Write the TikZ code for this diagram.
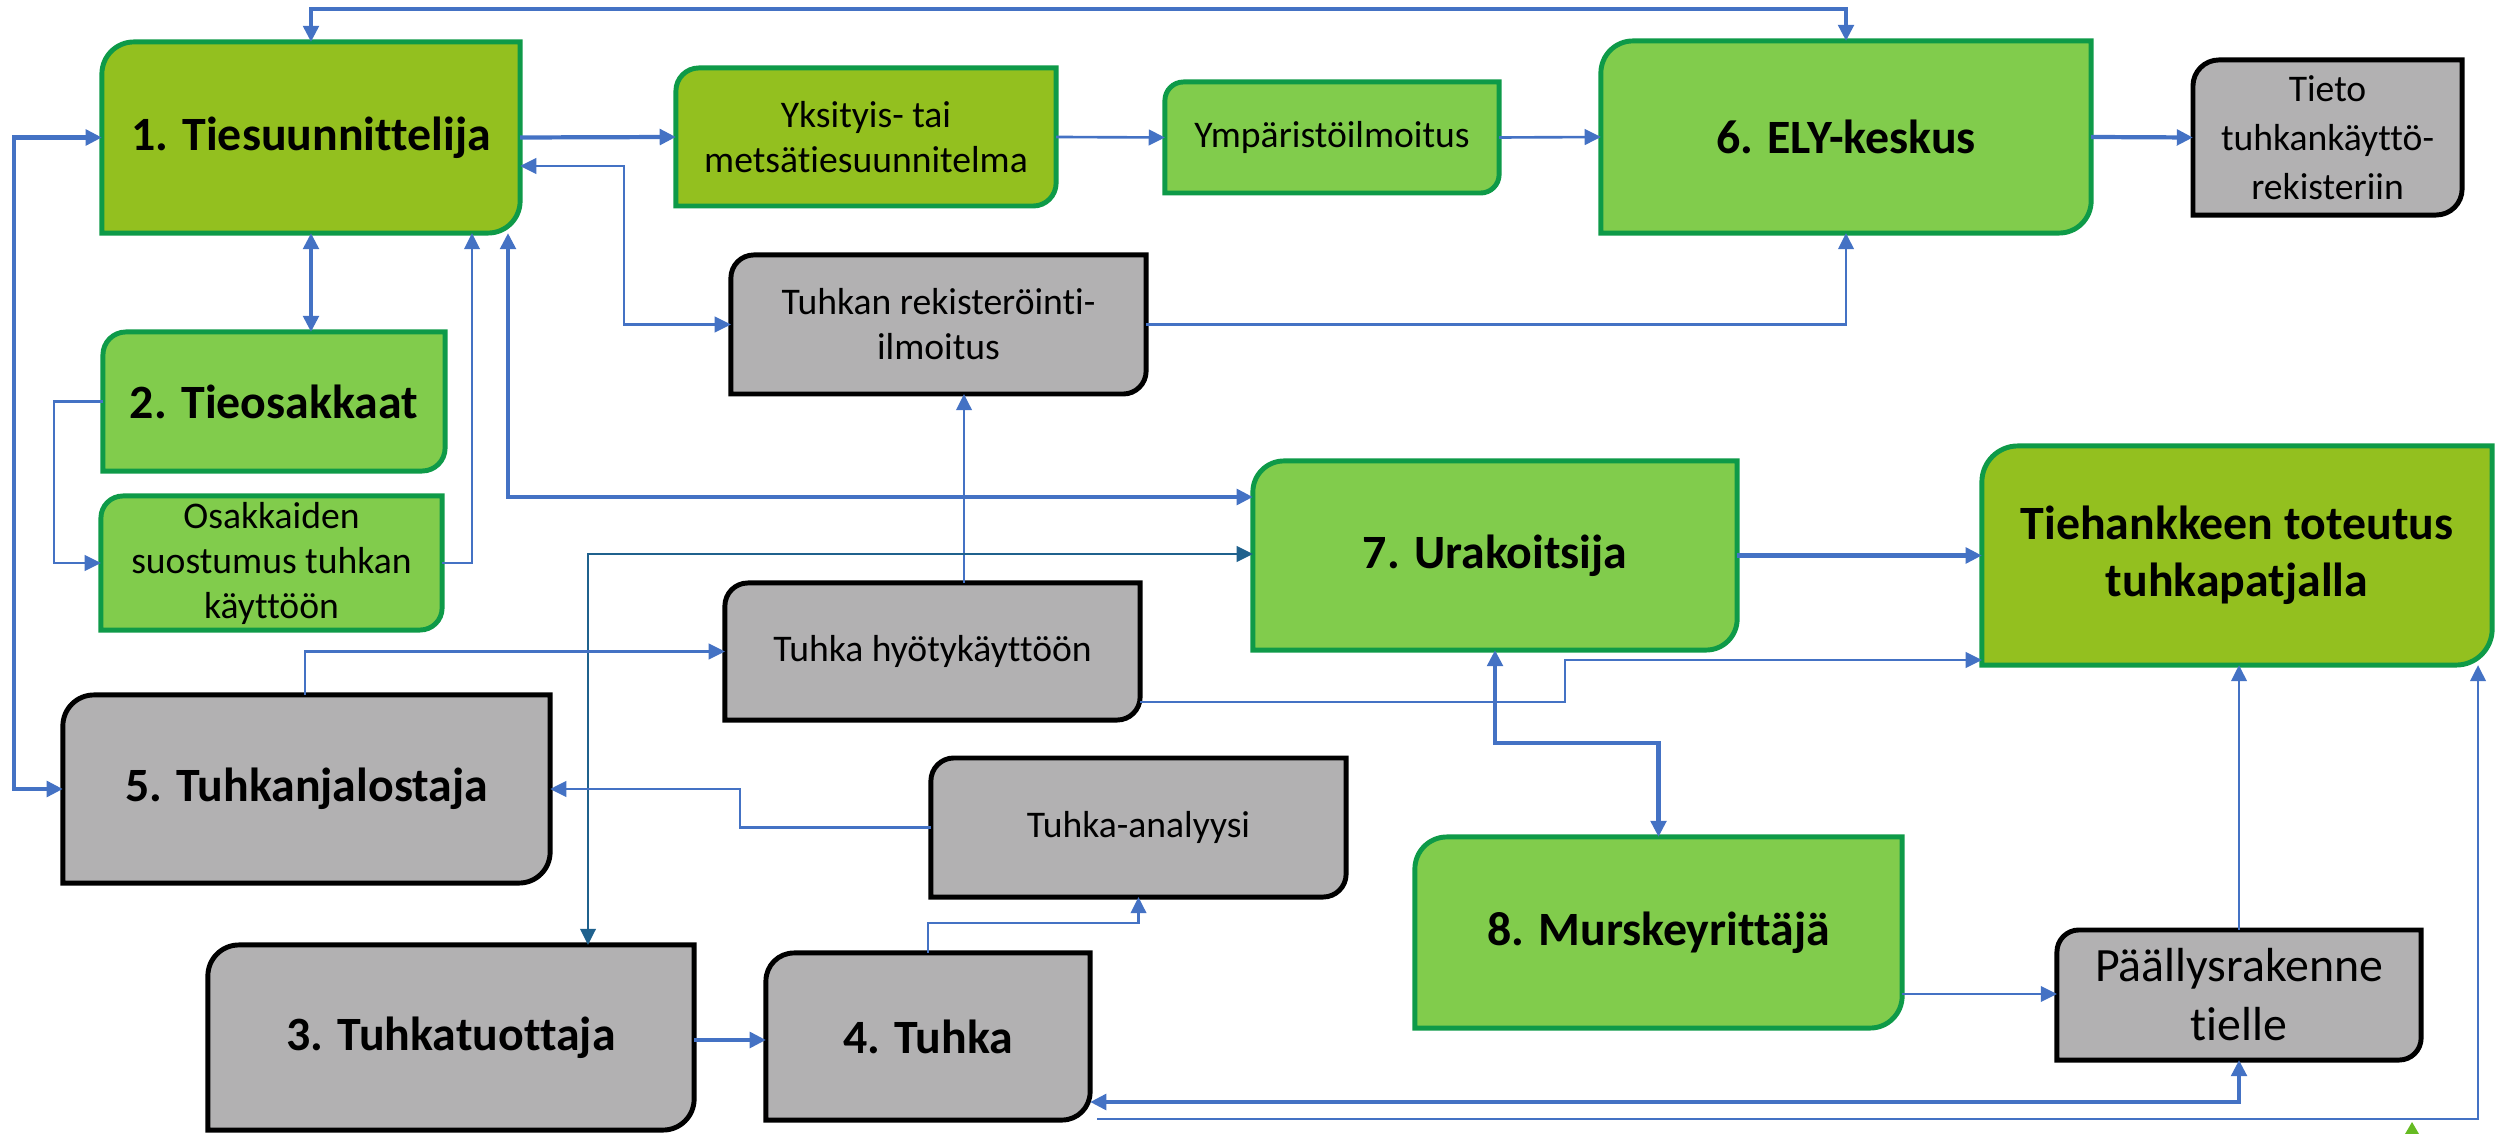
\documentclass[tikz,border=0pt]{standalone}
\usepackage{fontspec}
\setmainfont{Carlito}[Ligatures=NoCommon]
\usetikzlibrary{arrows.meta,backgrounds}

\definecolor{limefill}{RGB}{147,192,31}
\definecolor{leaffill}{RGB}{129,204,76}
\definecolor{edgegreen}{RGB}{14,154,72}
\definecolor{boxgray}{RGB}{178,177,178}
\definecolor{linkblue}{RGB}{68,114,196}
\definecolor{deepblue}{RGB}{31,97,141}
\definecolor{tipgreen}{RGB}{102,187,34}

\begin{document}
\begin{tikzpicture}[x=0.01cm,y=-0.01cm,
    >={Triangle[length=4.6pt,width=4.4pt]},
    sz/.style 2 args={minimum width=#1cm,minimum height=#2cm,inner sep=0pt,outer sep=0pt,align=center},
    big/.style={font=\fontsize{13.6}{16.3}\selectfont\bfseries},
    small/.style={font=\fontsize{10.7}{12.8}\selectfont},
    limebox/.style={fill=limefill,draw=edgegreen,line width=1.4pt},
    leafbox/.style={fill=leaffill,draw=edgegreen,line width=1.4pt},
    graybox/.style={fill=boxgray,draw=black,line width=1.4pt},
    link/.style={draw=linkblue,line width=0.75pt},
    heavy/.style={draw=linkblue,line width=1.2pt}]
  \path[use as bounding box,clip] (0,0) rectangle (2498,1134);

  % top row
  \node[sz={4.18}{1.91},big] (t1) at (311,137.5) {1. Tiesuunnittelija};
  \node[sz={3.80}{1.38},small] (yks) at (866,137) {Yksityis- tai\\metsätiesuunnitelma};
  \node[sz={3.34}{1.11},small] (ymp) at (1332,137.5) {Ympäristöilmoitus};
  \node[sz={4.90}{1.92},big] (ely) at (1846,137) {6. ELY-keskus};
  \node[sz={2.69}{1.55},font=\fontsize{10.7}{14}\selectfont] (tieto) at (2327.5,137.5) {Tieto\\tuhkankäyttö-\\rekisteriin};
  \node[sz={4.15}{1.39},small] (rek) at (938.5,324.5) {Tuhkan rekisteröinti-\\ilmoitus};

  % left column
  \node[sz={3.42}{1.39},big] (t2) at (274,401.5) {2. Tieosakkaat};
  \node[sz={3.41}{1.34},small] (osak) at (271.5,563) {Osakkaiden\\suostumus tuhkan\\käyttöön};
  \node[sz={4.15}{1.37},small] (hyo) at (932.5,651.5) {Tuhka hyötykäyttöön};
  \node[sz={4.87}{1.88},big] (t5) at (306.5,789) {5. Tuhkanjalostaja};
  \node[sz={4.15}{1.39},small] (ana) at (1138.5,827.5) {Tuhka-analyysi};
  \node[sz={4.86}{1.85},big] (t3) at (451,1037.5) {3. Tuhkatuottaja};
  \node[sz={3.24}{1.67},big] (t4) at (928,1036.5) {4. Tuhka};

  % right part
  \node[sz={4.84}{1.89},big] (t7) at (1495,555.5) {7. Urakoitsija};
  \node[sz={5.10}{2.19},big] (tie) at (2237,555.5) {Tiehankkeen toteutus\\tuhkapatjalla};
  \node[sz={4.87}{1.91},big] (t8) at (1658.5,932.5) {8. Murskeyrittäjä};
  \node[sz={3.64}{1.30},font=\fontsize{13.6}{16.8}\selectfont] (paa) at (2239,995) {Päällysrakenne\\tielle};

  % box outlines, round corners top left and bottom right
  \begin{scope}[on background layer]
    \foreach \n/\r/\s in {t1/0.32/limebox, yks/0.23/limebox, ymp/0.185/leafbox,
        ely/0.32/leafbox, tieto/0.26/graybox, rek/0.23/graybox, t2/0.23/leafbox,
        osak/0.22/leafbox, hyo/0.23/graybox, t5/0.31/graybox, ana/0.23/graybox,
        t3/0.31/graybox, t4/0.28/graybox, t7/0.31/leafbox, tie/0.36/limebox,
        t8/0.32/leafbox, paa/0.22/graybox}
      \draw[\s] (\n.north east) -- ([yshift=\r cm]\n.south east)
        arc[start angle=0,end angle=-90,radius=\r cm] -- (\n.south west)
        -- ([yshift=-\r cm]\n.north west)
        arc[start angle=180,end angle=90,radius=\r cm] -- cycle;
  \end{scope}

  % connectors
  \draw[heavy,<->] (t1.north) -- (t1.north |- 0,9) -| (ely.north);
  \draw[heavy,->] (t1.east) -- (yks.west);
  \draw[link,->] (yks.east) -- (ymp.west);
  \draw[link,->] (ymp.east) -- (ely.west);
  \draw[heavy,->] (ely.east) -- (tieto.west);
  \draw[link,<->] (t1.east |- 0,166) -- (624,166) |- (rek.west);
  \draw[link,->] (rek.east) -| (ely.south);
  \draw[heavy,<->] (t1.west) -- (14,137.5) |- (t5.west);
  \draw[heavy,<->] (t1.south) -- (t1.south |- t2.north);
  \draw[link,->] (t2.west) -- (54,401.5) |- (osak.west);
  \draw[link,->] (osak.east) -| (t1.south -| 472,0);
  \draw[heavy,<->] (t1.south -| 508,0) |- (t7.west |- 0,497);
  \draw[link,->] (hyo.north -| 964,0) -- (rek.south -| 964,0);
  \draw[link,draw=deepblue,<->] (t7.west |- 0,554) -| (t3.north -| 588,0);
  \draw[link,->] (t5.north -| 305,0) |- (hyo.west);
  \draw[link,->] (ana.west) -- (740,827.5) |- (t5.east);
  \draw[heavy,->] (t3.east |- 0,1040) -- (t4.west |- 0,1040);
  \draw[link,->] (t4.north) -- (t4.north |- 0,923) -| (ana.south);
  \draw[link,->] (hyo.east |- 0,702) -- (1565,702) |- (tie.west |- 0,660);
  \draw[heavy,->] (t7.east) -- (tie.west);
  \draw[heavy,<->] (t7.south) -- (t7.south |- 0,743) -| (t8.north);
  \draw[link,->] (t8.east |- 0,994) -- (paa.west |- 0,994);
  \draw[link,->] (paa.north) -- (paa.north |- tie.south);
  \draw[heavy,<->] (paa.south) |- (t4.east |- 0,1102);
  \coordinate (loose) at (1097,1119);
  \draw[link,->] (loose) -| (tie.south -| 2478,0);

  % green tip at the lower edge
  \fill[tipgreen] (2412,1122) -- (2405,1134) -- (2419,1134) -- cycle;
\end{tikzpicture}
\end{document}
